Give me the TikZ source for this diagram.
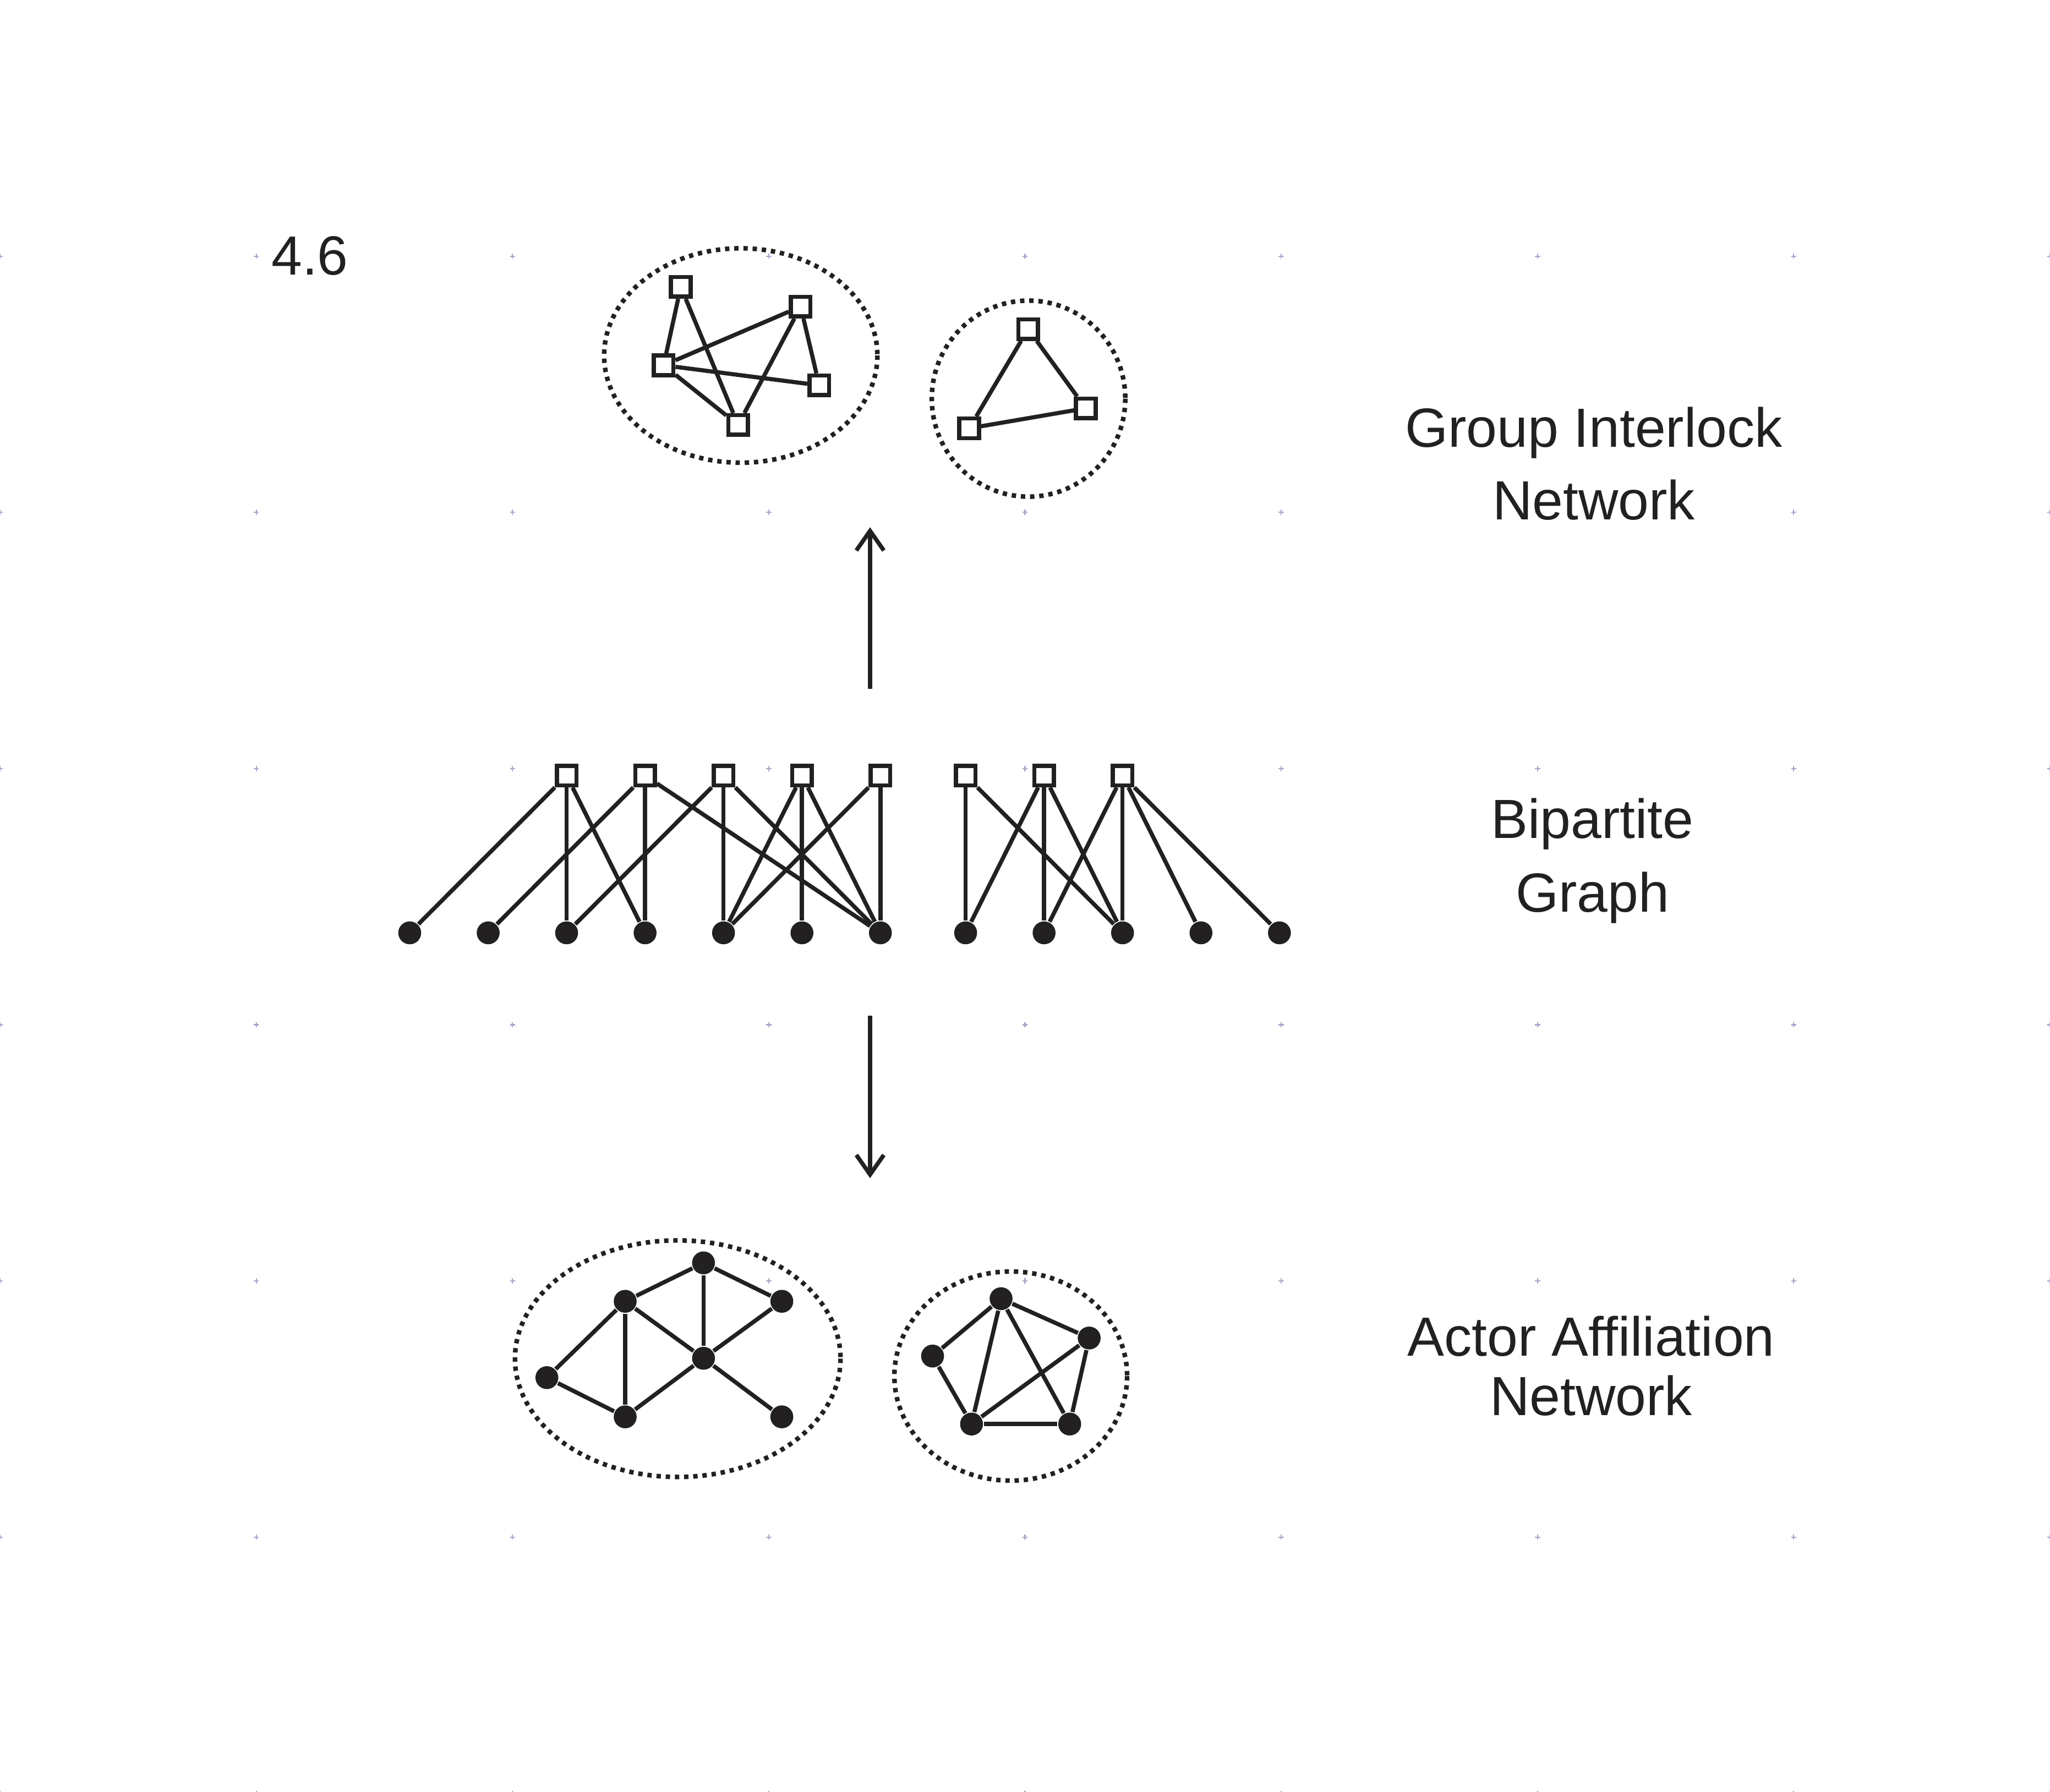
\documentclass[tikz,border=0pt]{standalone}
\usepackage{fontspec}
\setmainfont{Liberation Sans}
\usetikzlibrary{arrows.meta}
\definecolor{ink}{RGB}{34,32,33}
\definecolor{gridmark}{RGB}{165,165,205}
\tikzset{
  sq/.style={draw=ink, fill=white, line width=0.9pt, rectangle, inner sep=0pt, minimum size=0.15cm},
  dot/.style={fill=ink, circle, inner sep=0pt, minimum size=0.175cm},
  edge/.style={draw=ink, line width=0.9pt},
  grp/.style={draw=ink, line width=1pt, dash pattern=on 0.95pt off 1.05pt},
  lbl/.style={text=ink, anchor=base, inner sep=0pt, font=\fontsize{12pt}{14pt}\selectfont},
  flow/.style={draw=ink, line width=0.9pt, -{Straight Barb[length=1.5mm,width=2.1mm,line width=0.9pt]}},
  gm/.style={draw=gridmark, line width=0.25pt}
}
\begin{document}
\begin{tikzpicture}[x=0.01cm,y=-0.01cm]
\fill[white] (0,0) rectangle (1568,1371);
\useasboundingbox (0,0) rectangle (1568,1371);
% faint registration marks
\foreach \i in {0,...,8} {
  \foreach \j in {1,...,7} {
    \draw[gm] (196*\i-2,196*\j) -- (196*\i+2,196*\j);
    \draw[gm] (196*\i,196*\j-2) -- (196*\i,196*\j+2);
  }
}
% labels
\node[lbl] (fig) at (237,210.4) {4.6};
\node[lbl] (t1a) at (1219,342) {Group Interlock};
\node[lbl] (t1b) at (1219,397.5) {Network};
\node[lbl] (t2a) at (1218,641.2) {Bipartite};
\node[lbl] (t2b) at (1218,697.6) {Graph};
\node[lbl] (t3a) at (1217,1037.5) {Actor Affiliation};
\node[lbl] (t3b) at (1217,1083) {Network};

% ---------- group interlock network ----------
\draw[grp] (566.6,272) ellipse [x radius=104.5, y radius=82];
\draw[grp] (786.7,305) ellipse [x radius=74, y radius=75];
\node[sq] (A) at (520.7,219.5) {};
\node[sq] (B) at (612.4,234.6) {};
\node[sq] (C) at (507.6,279.5) {};
\node[sq] (D) at (626.6,294.8) {};
\node[sq] (E) at (564.6,325.1) {};
\node[sq] (F) at (786.4,251.8) {};
\node[sq] (G) at (830.5,312.4) {};
\node[sq] (H) at (741.3,327.7) {};
\foreach \u/\v in {A/C,A/E,C/B,C/D,C/E,B/E,B/D,F/H,F/G,H/G}
  \draw[edge] (\u) -- (\v);

% ---------- arrows ----------
\coordinate (u0) at (665.5,527);
\coordinate (u1) at (665.5,403.4);
\coordinate (d0) at (665.5,777);
\coordinate (d1) at (665.5,901.4);
\draw[flow] (u0) -- (u1);
\draw[flow] (d0) -- (d1);

% ---------- bipartite graph ----------
\foreach \k in {1,...,5} \node[sq] (s\k) at ({373.4+60*\k},593.4) {};
\foreach \k in {1,...,3} \node[sq] (t\k) at ({678.6+60*\k},593.4) {};
\foreach \k in {1,...,7} \node[dot] (a\k) at ({253.4+60*\k},713.7) {};
\foreach \k in {1,...,5} \node[dot] (b\k) at ({678.6+60*\k},713.7) {};
\foreach \u/\v in {s1/a1,s1/a3,s1/a4,s2/a2,s2/a4,s2/a7,s3/a3,s3/a5,s3/a7,s4/a5,s4/a6,s4/a7,s5/a5,s5/a7,
                   t1/b1,t1/b3,t2/b1,t2/b2,t2/b3,t3/b2,t3/b3,t3/b4,t3/b5}
  \draw[edge] (\u) -- (\v);
% redraw squares on top
\foreach \k in {1,...,5} \node[sq] at (s\k) {};
\foreach \k in {1,...,3} \node[sq] at (t\k) {};

% ---------- actor affiliation network ----------
\draw[grp] (518.4,1039.5) ellipse [x radius=124.5, y radius=90.5];
\draw[grp] (773.1,1052.8) ellipse [x radius=89, y radius=80];
\node[dot] (P1) at (538.1,966.2) {};
\node[dot] (P2) at (478.2,995.6) {};
\node[dot] (P3) at (598.0,995.6) {};
\node[dot] (P4) at (538.1,1039.2) {};
\node[dot] (P5) at (418.3,1054) {};
\node[dot] (P6) at (478.2,1084) {};
\node[dot] (P7) at (598.0,1084) {};
\node[dot] (Q1) at (765.7,993.6) {};
\node[dot] (Q2) at (833.1,1023.7) {};
\node[dot] (Q3) at (713.3,1037.5) {};
\node[dot] (Q4) at (743.1,1089.5) {};
\node[dot] (Q5) at (818.2,1089.5) {};
\foreach \u/\v in {P1/P2,P1/P3,P1/P4,P2/P4,P2/P5,P2/P6,P3/P4,P4/P6,P4/P7,P5/P6,
                   Q1/Q3,Q1/Q2,Q1/Q4,Q1/Q5,Q2/Q4,Q2/Q5,Q3/Q4,Q4/Q5}
  \draw[edge] (\u) -- (\v);
\end{tikzpicture}
\end{document}
